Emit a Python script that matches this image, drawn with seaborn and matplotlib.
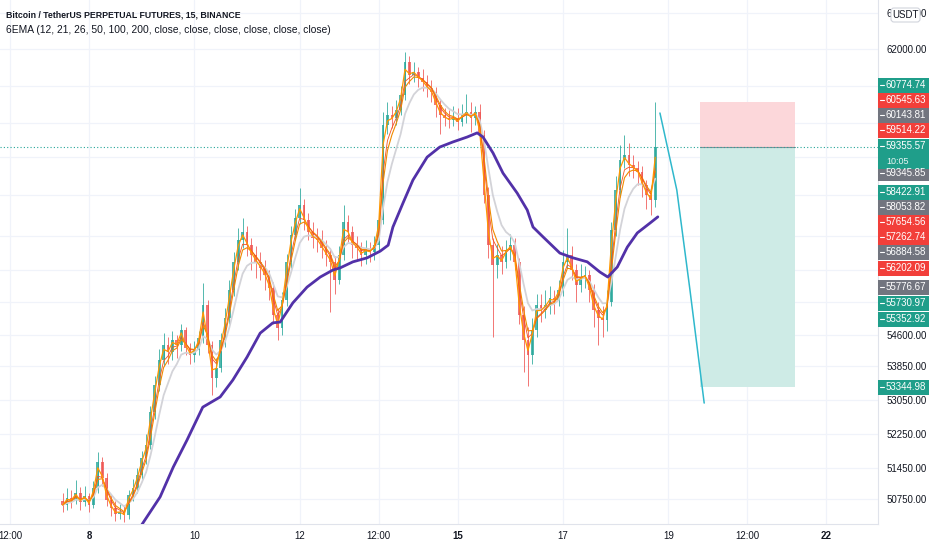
import numpy as np
import pandas as pd
import matplotlib
matplotlib.use("Agg")
import matplotlib.pyplot as plt
import seaborn as sns
from matplotlib.patches import Rectangle, FancyBboxPatch
from matplotlib.ticker import FixedLocator, NullFormatter, FuncFormatter

# ---- data (BTCUSDT perp, resampled to 2h candles) ----
first_open = 50700
closes = [50620, 50775, 50730, 50890, 50685, 50820, 50620, 51000, 51595, 51230,
          50730, 50550, 50415, 50460, 50390, 50840, 51000, 51300, 51690, 51985,
          52755, 53395, 53990, 54350, 54180, 54470, 54350, 54715, 54280, 54110,
          54230, 54520, 55330, 54350, 53560, 53800, 54470, 55010, 55700, 56400,
          56950, 57150, 56820, 56570, 56400, 56250, 56070, 55750, 55080, 54760,
          55450, 56400, 57080, 57510, 57840, 57460, 57150, 57000, 56950, 56750,
          56570, 56400, 55950, 56570, 57410, 57150, 56820, 56750, 56570, 56700,
          56650, 56820, 57460, 59940, 60210, 60130, 60340, 60745, 61640, 61290,
          61370, 61210, 61100, 60935, 60825, 60475, 60210, 60130, 60070, 60130,
          60020, 60210, 60290, 60130, 60290, 59670, 58100, 56820, 56320, 56570,
          56400, 56700, 56820, 56400, 55080, 54470, 54110, 54715, 55330, 55200,
          55330, 55500, 55450, 55700, 56400, 56570, 56200, 55820, 56000, 56070,
          55700, 55200, 55010, 54960, 55400, 57200, 58230, 59010, 59145, 58880,
          58800, 58700, 58360, 58100, 57970, 59355.57]
highs = [50900, 51000, 50950, 51180, 51020, 51050, 50900, 51150, 51830, 51700,
         51350, 50850, 50700, 50650, 50600, 50950, 51200, 51450, 51850, 52250,
         52900, 53600, 54250, 54650, 54550, 54700, 54600, 54850, 54800, 54400,
         54450, 54700, 55870, 55450, 54450, 54050, 54650, 55250, 55950, 56650,
         57250, 57520, 57300, 57000, 56800, 56650, 56450, 56200, 55900, 55250,
         55650, 56600, 57300, 57750, 58280, 58000, 57650, 57400, 57250, 57200,
         56950, 56750, 56550, 56800, 57840, 57600, 57300, 57050, 56900, 56950,
         56900, 57050, 57700, 60300, 60550, 60450, 60600, 61000, 61920, 61800,
         61650, 61500, 61450, 61300, 61150, 60950, 60650, 60400, 60350, 60450,
         60400, 60500, 60760, 60550, 60450, 60500, 59800, 58300, 57000, 56850,
         56800, 56950, 57100, 57000, 56500, 55300, 54800, 55000, 55600, 55600,
         55700, 55800, 55700, 55950, 56700, 57250, 56800, 56350, 56350, 56300,
         56200, 55850, 55400, 55300, 55700, 57400, 58600, 59400, 59670, 59450,
         59150, 59000, 58850, 58500, 58300, 60555]
lows = [50450, 50500, 50560, 50650, 50500, 50600, 50450, 50550, 50900, 51050,
        50600, 50380, 50250, 50300, 50230, 50300, 50700, 50900, 51200, 51550,
        51900, 52600, 53250, 53850, 53900, 54000, 54050, 54200, 54100, 53900,
        53950, 54100, 54400, 54150, 53150, 53350, 53700, 54300, 54850, 55550,
        56200, 56750, 56550, 56200, 56000, 55950, 55700, 55450, 54850, 54470,
        54600, 55300, 56250, 56950, 57350, 57200, 56950, 56750, 56650, 56500,
        56300, 55150, 55600, 55850, 56450, 56900, 56500, 56450, 56300, 56350,
        56400, 56450, 56700, 57350, 59700, 59850, 59950, 60200, 60600, 61050,
        61100, 60950, 60850, 60700, 60550, 60150, 59700, 59900, 59850, 59900,
        59800, 59900, 60000, 59750, 59950, 59400, 57900, 56500, 54550, 56000,
        56100, 56250, 56450, 56200, 54850, 53700, 53360, 53900, 54550, 54900,
        55000, 55100, 55100, 55300, 55550, 56250, 55950, 55400, 55650, 55750,
        55400, 54800, 54350, 54550, 54700, 55300, 57050, 58050, 58800, 58600,
        58550, 58350, 58050, 57750, 57590, 57800]

# EMA200 (purple) as (day, price)
ema200_days = [8.87, 9.06, 9.35, 9.60, 9.86, 10.16, 10.49, 10.73, 11.00, 11.25,
               11.49, 11.63, 11.87, 12.14, 12.39, 12.63, 12.77, 13.01, 13.28, 13.53,
               13.68, 13.77, 13.96, 14.15, 14.42, 14.66, 14.91, 15.18, 15.37, 15.48,
               15.67, 15.86, 16.13, 16.32, 16.43, 16.62, 16.94, 17.19, 17.46, 17.70,
               17.85, 18.03, 18.22, 18.41, 18.65, 18.80]
ema200_vals = [49940, 50280, 50800, 51480, 52100, 52870, 53110, 53510, 54060, 54640,
               54890, 54910, 55380, 55770, 56020, 56195, 56250, 56400, 56500, 56670,
               56820, 57280, 57890, 58490, 59090, 59355, 59490, 59620, 59730, 59620,
               59200, 58670, 58150, 57716, 57280, 57030, 56620, 56500, 56400, 56145,
               56020, 56270, 56770, 57130, 57380, 57540]

ema_periods = [12, 21, 26, 50]
ema_colors = ["#ff9800", "#f4511e", "#f08a00", "#d3d3d8"]
ema_widths = [0.9, 0.6, 0.8, 1.3]

# drawn projection curve and short position tool
proj_days = [18.84, 19.16, 19.41, 19.68]
proj_prices = [60260, 58231, 55697, 52966]
entry_price = 59355.57
stop_price = 60545.63
target_price = 53344.98
pos_days = (19.60, 21.40)

# price tags on the right scale
tag_texts = ["60774.74", "60545.63", "60143.81", "59514.22", "59345.85", "58422.91",
             "58053.82", "57654.56", "57262.74", "56884.58", "56202.09", "55776.67",
             "55730.97", "55352.92", "53344.98"]
tag_kinds = ["up", "down", "ema", "down", "ema", "up", "ema", "down", "down", "ema",
             "down", "ema", "up", "up", "up"]

label_ticks = [50750, 51450, 52250, 53050, 53850, 54600, 62000, 63000]
grid_only_ticks = [55400, 56200, 57050, 58100, 59100, 60000, 61000]
date_ticks = [6.5, 8, 10, 12, 13.5, 15, 17, 19, 20.5, 22]
date_labels = ["12:00", "8", "10", "12", "12:00", "15", "17", "19", "12:00", "22"]
bold_dates = ["8", "15", "22"]

# ---- layout ----
W, H = 932, 550
RIGHT = 878
BOTTOM = 524
tag_rows_px = [85, 100, 115, 130, 173, 192, 207, 222, 237, 252, 268, 287, 303, 319, 387]
tag_palette = {"up": "#1f9e8a", "down": "#f23f3a", "ema": "#72757f"}

sns.set_style("white")
plt.rcParams["font.family"] = ["Liberation Sans", "DejaVu Sans"]

fig = plt.figure(figsize=(W / 100, H / 100), dpi=100)
ax = fig.add_axes([0, (H - BOTTOM) / H, RIGHT / W, BOTTOM / H])

closes = np.array(closes, dtype=float)
highs = np.array(highs, dtype=float)
lows = np.array(lows, dtype=float)
opens = np.concatenate([[first_open], closes[:-1]])
bar_len = 1 / 12
days = 7.5 + np.arange(len(closes)) * bar_len

up = closes >= opens
colors = np.where(up, "#26a69a", "#ef5350")
ax.vlines(days, lows, highs, colors=colors, lw=0.7, alpha=0.8, zorder=2)
ax.bar(days, np.maximum(np.abs(closes - opens), 20), bottom=np.minimum(opens, closes),
       width=bar_len * 0.62, color=colors, alpha=0.8, zorder=2, linewidth=0)

df = pd.DataFrame({"day": days, "close": closes})
for p in ema_periods:
    df[f"ema{p}"] = df["close"].ewm(span=p / 8, adjust=False).mean()
for p, c, lw in zip(ema_periods[::-1], ema_colors[::-1], ema_widths[::-1]):
    sns.lineplot(data=df, x="day", y=f"ema{p}", color=c, linewidth=lw, ax=ax,
                 legend=False, zorder=3)
sns.lineplot(x=ema200_days, y=ema200_vals, color="#5231a8", linewidth=2.0, ax=ax,
             legend=False, zorder=4)

# position tool
ax.add_patch(Rectangle((pos_days[0], entry_price), pos_days[1] - pos_days[0],
                       stop_price - entry_price, facecolor="#fcd7da", edgecolor="none", zorder=1))
ax.add_patch(Rectangle((pos_days[0], target_price), pos_days[1] - pos_days[0],
                       entry_price - target_price, facecolor="#ceebe6", edgecolor="none", zorder=1))
ax.plot(pos_days, [entry_price, entry_price], color="#8a8d96", lw=0.8, zorder=1.5)

# projection line
sns.lineplot(x=proj_days, y=proj_prices, color="#2fb8cc", linewidth=1.1, ax=ax,
             legend=False, sort=False, zorder=5)

# last price line
ax.axhline(entry_price, color="#26a69a", lw=0.8, ls=(0, (1, 2)), zorder=1.6)

ax.set_yscale("log")
ax.set_ylim(50192, 63367)
ax.set_xlim(6.31, 22.98)
ax.yaxis.set_major_locator(FixedLocator(label_ticks))
ax.yaxis.set_minor_locator(FixedLocator(grid_only_ticks))
ax.yaxis.set_major_formatter(FuncFormatter(lambda v, _: f"{v:.2f}"))
ax.yaxis.set_minor_formatter(NullFormatter())
ax.yaxis.tick_right()
ax.tick_params(axis="y", which="both", length=0, pad=6, labelsize=7, labelcolor="#131722")
ax.set_xticks(date_ticks)
ax.set_xticklabels(date_labels)
ax.tick_params(axis="x", length=0, pad=5, labelsize=7, labelcolor="#131722")
for lab in ax.get_xticklabels():
    if lab.get_text() in bold_dates:
        lab.set_fontweight("bold")
ax.set_xlabel("")
ax.set_ylabel("")
ax.grid(True, which="both", color="#f0f3fa", lw=0.9)
ax.set_axisbelow(True)
for s in ["top", "left"]:
    ax.spines[s].set_visible(False)
for s in ["bottom", "right"]:
    ax.spines[s].set_color("#e0e3eb")
    ax.spines[s].set_linewidth(0.8)

# overlay in pixel coordinates for tags and header
ov = fig.add_axes([0, 0, 1, 1])
ov.set_xlim(0, W)
ov.set_ylim(H, 0)
ov.axis("off")
ov.patch.set_alpha(0)


def tag(y, text, color, h=15):
    ov.add_patch(Rectangle((RIGHT, y - h / 2), 51, h, facecolor=color, edgecolor="none"))
    ov.plot([RIGHT + 2, RIGHT + 6], [y, y], color="white", lw=0.8)
    ov.text(RIGHT + 8, y, text, color="white", fontsize=7, va="center", ha="left")


for y, t, k in zip(tag_rows_px, tag_texts, tag_kinds):
    tag(y, t, tag_palette[k])

ov.add_patch(Rectangle((RIGHT, 139), 51, 30, facecolor=tag_palette["up"], edgecolor="none"))
ov.plot([RIGHT + 2, RIGHT + 6], [146, 146], color="white", lw=0.8)
ov.text(RIGHT + 8, 146, f"{entry_price:.2f}", color="white", fontsize=7, va="center", ha="left")
ov.text(RIGHT + 8, 161, "10:05", color="white", fontsize=6.5, va="center", ha="left", alpha=0.9)

ov.add_patch(FancyBboxPatch((891, 8), 29, 14, boxstyle="round,pad=0,rounding_size=3",
                            facecolor="white", edgecolor="#d1d4dc", lw=0.8))
ov.text(905.5, 15.5, "USDT", fontsize=7, color="#131722", ha="center", va="center")

ov.text(6, 15, "Bitcoin / TetherUS PERPETUAL FUTURES, 15, BINANCE", fontsize=6.3,
        fontweight="bold", color="#131722", va="center", ha="left")
ov.text(6, 30, "6EMA (12, 21, 26, 50, 100, 200, close, close, close, close, close, close)",
        fontsize=7.4, color="#131722", va="center", ha="left")

fig.savefig("out.png", dpi=100)
